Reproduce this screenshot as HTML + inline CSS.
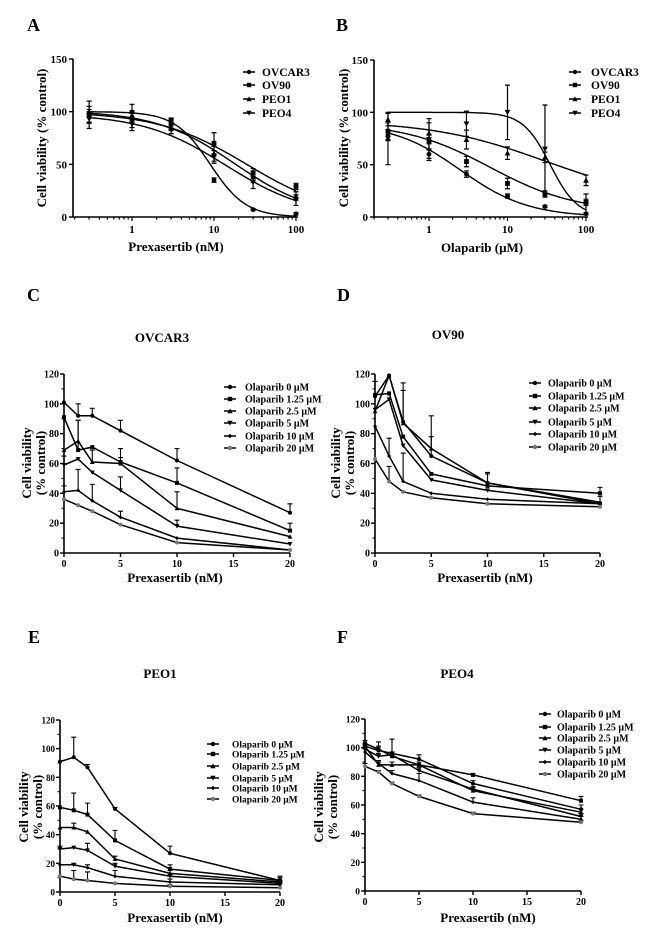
<!DOCTYPE html>
<html><head><meta charset="utf-8">
<style>
html,body{margin:0;padding:0;background:#fff;}
svg{display:block;font-family:"Liberation Serif",serif;font-weight:bold;}
</style></head>
<body>
<svg id="fig" width="650" height="936" viewBox="0 0 650 936" xmlns="http://www.w3.org/2000/svg"></svg>
<script>
// ---- Panel A data ----
const aDoses = [0.3, 1, 3, 10, 30, 100];
const aNames = ["OVCAR3", "OV90", "PEO1", "PEO4"];
const aOVCAR3 = [95, 95, 88, 35, 7, 3];
const aOV90 = [97, 93, 88, 70, 42, 29];
const aPEO1 = [100, 100, 85, 60, 38, 20];
const aPEO4 = [93, 88, 88, 57, 33, 16];
const aErr = [[5,5,4,2,1,1],[8,8,5,10,4,3],[10,7,6,7,5,4],[9,6,6,6,6,5]];
// fit params: top, bottom, EC50, hill
const aFitTop = [100, 100, 101, 98];
const aFitBottom = [0, 0, 0, 0];
const aFitEC50 = [9, 25, 18, 14];
const aFitHill = [2, 0.8, 0.9, 0.85];
// ---- Panel B data ----
const bDoses = [0.3, 1, 3, 10, 30, 100];
const bOVCAR3 = [78, 60, 41, 20, 10, 3];
const bOV90 = [82, 72, 53, 32, 22, 14];
const bPEO1 = [93, 80, 74, 61, 57, 35];
const bPEO4 = [75, 74, 89, 100, 65, 12];
const bErr = [[5,4,3,2,1,1],[8,7,5,5,3,3],[6,10,9,6,5,5],[25,20,12,26,42,10]];
const bFitTop = [90, 90, 92, 100];
const bFitBottom = [0, 5, 15, 0];
const bFitEC50 = [2.5, 6, 30, 35];
const bFitHill = [1, 0.8, 0.6, 2.5];
// ---- Combination panels ----
const combDoses = [0, 1.25, 2.5, 5, 10, 20];
const combLegend = ["Olaparib 0 μM","Olaparib 1.25 μM","Olaparib 2.5 μM","Olaparib 5 μM","Olaparib 10 μM","Olaparib 20 μM"];
const cVals = [[101,92,92,82,62,27],[91,69,71,61,47,15],[69,75,61,60,30,11],[59,63,54,42,18,6],[41,42,35,24,10,2],[36,32,28,19,7,2]];
const cErr = [[0,8,5,7,8,6],[0,20,0,9,10,5],[0,14,8,4,11,0],[6,0,0,9,4,0],[4,14,11,4,0,0],[0,0,0,0,0,0]];
const dVals = [[105,119,88,65,47,33],[106,107,78,53,45,40],[95,119,87,70,47,34],[96,103,72,49,42,33],[85,65,48,40,36,33],[63,48,41,37,33,31]];
const dErr = [[10,0,26,27,7,5],[0,0,0,0,8,4],[0,0,22,8,0,0],[0,0,0,0,0,0],[0,12,19,0,0,0],[0,10,0,0,0,0]];
const eVals = [[91,94,87,58,27,8],[59,57,54,36,16,8],[45,45,42,23,13,7],[30,31,29,18,11,6],[19,19,17,11,7,5],[11,9,8,6,4,3]];
const eErr = [[0,14,2,1,5,3],[0,12,8,7,3,2],[0,3,0,2,2,1],[2,0,5,2,1,1],[0,1,2,4,2,1],[0,6,6,0,1,0]];
const fVals = [[101,98,96,92,75,57],[103,99,94,88,81,63],[101,88,88,88,70,55],[99,94,95,84,71,52],[97,89,82,77,62,50],[87,83,75,66,54,48]];
const fErr = [[2,6,10,3,2,3],[2,2,2,2,1,3],[1,2,2,2,2,2],[2,2,2,2,2,2],[2,2,2,5,3,2],[2,1,1,1,1,1]];
const linTicks = [0, 5, 10, 15, 20];
const combYTicks = [0, 20, 40, 60, 80, 100, 120];
const logTicks = [1, 10, 100];
const logYTicks = [0, 50, 100, 150];

const NS = "http://www.w3.org/2000/svg";
const svg = document.getElementById("fig");
function mk(tag, attrs, parent, text) {
  const e = document.createElementNS(NS, tag);
  for (const k in attrs) e.setAttribute(k, attrs[k]);
  if (text !== undefined) e.textContent = text;
  (parent || svg).appendChild(e);
  return e;
}
const markerShapes = ["circle","square","triUp","triDown","diamond","circleGrey"];
function marker(g, x, y, idx, s) {
  const t = markerShapes[idx % 6];
  let m;
  if (t === "circle" || t === "circleGrey") m = mk("circle", {cx:x, cy:y, r:s, fill: t==="circleGrey" ? "#777" : "#000"}, g);
  else if (t === "square") m = mk("rect", {x:x-s, y:y-s, width:2*s, height:2*s, fill:"#000"}, g);
  else if (t === "triUp") m = mk("polygon", {points:`${x},${y-s*1.2} ${x-s*1.2},${y+s} ${x+s*1.2},${y+s}`, fill:"#000"}, g);
  else if (t === "triDown") m = mk("polygon", {points:`${x},${y+s*1.2} ${x-s*1.2},${y-s} ${x+s*1.2},${y-s}`, fill:"#000"}, g);
  else m = mk("polygon", {points:`${x},${y-s} ${x+s},${y} ${x},${y+s} ${x-s},${y}`, fill:"#000"}, g);
  
  
}

function panelFrame(o) {
  const g = mk("g", {});
  
  
  const L = mk("text", {x:o.letter[0], y:o.letter[1], "font-size":18}, g, o.letterText);
  
  
  if (o.title) {
    const t = mk("text", {x:o.title[0], y:o.title[1], "font-size":13, "text-anchor":"middle"}, g, o.titleText);
    
    
  }
  const ax = mk("path", {d:`M${o.x0},${o.yTop} L${o.x0},${o.y0} L${o.x1},${o.y0}`, stroke:"#000", "stroke-width":1.6, fill:"none"}, g);
  
  
  return g;
}

function legend(g, names, x, ys, fs, tx) {
  names.forEach((n, i) => {
    const lg = mk("g", {}, g);
    
    
    mk("line", {x1:x-6, x2:x+6, y1:ys[i], y2:ys[i], stroke:"#000", "stroke-width":1.5}, lg);
    marker(lg, x, ys[i], i, 2.2);
    mk("text", {x:tx, y:ys[i]+fs*0.35, "font-size":fs}, lg, n);
  });
}

function logPanel(o) {
  const g = panelFrame(o);
  const lx0 = Math.log10(o.xRef1), dec = o.dec;
  const X = v => o.x1pos + (Math.log10(v) - lx0) * dec;
  const Y = v => o.y0 - v / 150 * (o.y0 - o.yTop);
  logYTicks.forEach(v => {
    mk("line", {x1:o.x0-4, x2:o.x0, y1:Y(v), y2:Y(v), stroke:"#000", "stroke-width":1.4}, g);
    const t = mk("text", {x:o.x0-6, y:Y(v)+4, "font-size":11, "text-anchor":"end"}, g, v);
    
    
  });
  [0.2,0.3,0.4,0.5,0.6,0.7,0.8,0.9,1,2,3,4,5,6,7,8,9,10,20,30,40,50,60,70,80,90,100].forEach(v => {
    const major = logTicks.includes(v);
    if (X(v) < o.x0) return;
    mk("line", {x1:X(v), x2:X(v), y1:o.y0, y2:o.y0+(major?4:2.5), stroke:"#000", "stroke-width":1.2}, g);
  });
  logTicks.forEach(v => {
    const t = mk("text", {x:X(v), y:o.y0+16, "font-size":11, "text-anchor":"middle"}, g, v);
    
    
  });
  const xl = mk("text", {x:o.xlab[0], y:o.xlab[1], "font-size":13, "text-anchor":"middle"}, g, o.xlabText);
  
  
  const yl = mk("text", {x:0, y:0, "font-size":13, "text-anchor":"middle", transform:`translate(${o.ylab[0]},${o.ylab[1]}) rotate(-90)`}, g, "Cell viability (% control)");
  
  
  o.series.forEach((s, i) => {
    const pts = [];
    for (let k = 0; k <= 120; k++) {
      const lv = Math.log10(0.3) + k / 120 * (2 - Math.log10(0.3));
      const d = Math.pow(10, lv);
      const v = o.bottom[i] + (o.top[i] - o.bottom[i]) / (1 + Math.pow(d / o.ec50[i], o.hill[i]));
      pts.push(X(d).toFixed(1) + "," + Y(v).toFixed(1));
    }
    const c = mk("polyline", {points:pts.join(" "), fill:"none", stroke:"#000", "stroke-width":1.4}, g);
    
    
    s.forEach((v, j) => {
      const e = o.err[i][j], x = X(o.doses[j]);
      if (e > 0) {
        mk("path", {d:`M${x},${Y(v-e)} L${x},${Y(v+e)} M${x-2.5},${Y(v-e)} L${x+2.5},${Y(v-e)} M${x-2.5},${Y(v+e)} L${x+2.5},${Y(v+e)}`, stroke:"#000", "stroke-width":1.2, fill:"none"}, g);
      }
      marker(g, x, Y(v), i, 2.4);
    });
  });
  legend(g, o.names, o.legX, o.legY, 11.5, o.legTX);
}

function linPanel(o) {
  const g = panelFrame(o);
  const X = v => o.x0 + v / 20 * (o.x1 - o.x0);
  const Y = v => o.y0 - v / 120 * (o.y0 - o.yTop);
  combYTicks.forEach(v => {
    mk("line", {x1:o.x0-4, x2:o.x0, y1:Y(v), y2:Y(v), stroke:"#000", "stroke-width":1.4}, g);
    if (v < 120) mk("line", {x1:o.x0-2.5, x2:o.x0, y1:Y(v+10), y2:Y(v+10), stroke:"#000", "stroke-width":1}, g);
    const t = mk("text", {x:o.x0-5, y:Y(v)+3.5, "font-size":o.tickFs || 10, "text-anchor":"end"}, g, v);
    
    
  });
  linTicks.forEach(v => {
    mk("line", {x1:X(v), x2:X(v), y1:o.y0, y2:o.y0+4, stroke:"#000", "stroke-width":1.4}, g);
    const t = mk("text", {x:X(v), y:o.y0+14, "font-size":10, "text-anchor":"middle"}, g, v);
    
    
  });
  const xl = mk("text", {x:o.xlab[0], y:o.xlab[1], "font-size":13, "text-anchor":"middle"}, g, "Prexasertib (nM)");
  
  
  const yl = mk("g", {transform:`translate(${o.ylab[0]},${o.ylab[1]}) rotate(-90)`}, g);
  
  
  mk("text", {x:0, y:0, "font-size":13, "text-anchor":"middle"}, yl, "Cell viability");
  mk("text", {x:0, y:14, "font-size":13, "text-anchor":"middle"}, yl, "(% control)");
  o.vals.forEach((s, i) => {
    const pts = s.map((v, j) => X(combDoses[j]).toFixed(1) + "," + Y(v).toFixed(1));
    const l = mk("polyline", {points:pts.join(" "), fill:"none", stroke:"#000", "stroke-width":1.5}, g);
    
    
    s.forEach((v, j) => {
      const e = o.err[i][j], x = X(combDoses[j]);
      if (e > 0) mk("path", {d:`M${x},${Y(v)} L${x},${Y(v+e)} M${x-2.5},${Y(v+e)} L${x+2.5},${Y(v+e)}`, stroke:"#000", "stroke-width":1.1, fill:"none"}, g);
      marker(g, x, Y(v), i, 2);
    });
  });
  legend(g, combLegend, o.legX, o.legY, o.legFs, o.legTX);
}

logPanel({name:"panel-a", letter:[27,31], letterText:"A", x0:73, x1:298, y0:217, yTop:59,
  xRef1:1, x1pos:132, dec:82, doses:aDoses, names:aNames,
  series:[aOVCAR3,aOV90,aPEO1,aPEO4], err:aErr, top:aFitTop, bottom:aFitBottom, ec50:aFitEC50, hill:aFitHill,
  xlab:[176,251], xlabText:"Prexasertib (nM)", ylab:[46,138], legX:249, legTX:262, legY:[72,85,99,113]});
logPanel({name:"panel-b", letter:[336,31], letterText:"B", x0:374, x1:588, y0:217, yTop:60,
  xRef1:1, x1pos:429, dec:78.5, doses:bDoses, names:aNames,
  series:[bOVCAR3,bOV90,bPEO1,bPEO4], err:bErr, top:bFitTop, bottom:bFitBottom, ec50:bFitEC50, hill:bFitHill,
  xlab:[482,252], xlabText:"Olaparib (μM)", ylab:[348,138], legX:575, legTX:591, legY:[72,85,99,113]});
linPanel({name:"panel-c", letter:[27,301], letterText:"C", title:[162,342], titleText:"OVCAR3",
  x0:64, x1:290, y0:553, yTop:374, vals:cVals, err:cErr, xlab:[175,582], ylab:[31,463],
  legX:230, legTX:245, legY:[387,399,411,423,436,448], legFs:10});
linPanel({name:"panel-d", letter:[337,301], letterText:"D", title:[448,339], titleText:"OV90",
  x0:375, x1:600, y0:553, yTop:374, vals:dVals, err:dErr, xlab:[485,582], ylab:[340,463],
  legX:535, legTX:548, legY:[383,396,408,422,434,447], legFs:10});
linPanel({name:"panel-e", letter:[28,643], letterText:"E", title:[160,678], titleText:"PEO1",
  x0:60, x1:280, y0:892, yTop:720, vals:eVals, err:eErr, xlab:[175,922], ylab:[28,807], tickFs:9,
  legX:213, legTX:232, legY:[744,754,766,778,788,799], legFs:9.5});
linPanel({name:"panel-f", letter:[337,643], letterText:"F", title:[457,678], titleText:"PEO4",
  x0:365, x1:581, y0:891, yTop:719, vals:fVals, err:fErr, xlab:[488,922], ylab:[323,807], tickFs:9.5,
  legX:545, legTX:557, legY:[714,727,738,750,762,774], legFs:10});
</script>
</body></html>
